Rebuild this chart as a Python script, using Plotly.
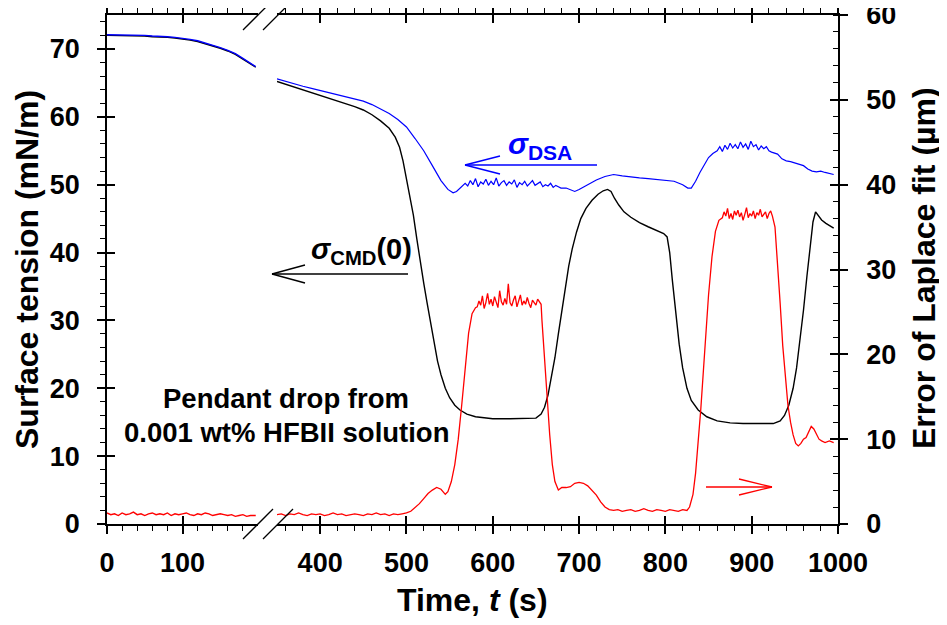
import plotly.graph_objects as go

# ---------------- data ----------------
# Segment 1 (before the axis break), surface tension, mN/m
t1 = [0, 10, 20, 30, 40, 50, 60, 70, 80, 90, 100, 110, 120, 130, 140, 150, 160, 170, 180, 190, 197]
dsa1 = [72.1, 72.1, 72.1, 72.0, 72.0, 72.0, 71.9, 71.9, 71.8, 71.7, 71.6, 71.4, 71.2, 70.9, 70.6,
        70.2, 69.8, 69.3, 68.6, 67.9, 67.4]
cmd1 = [72.0, 72.0, 72.0, 71.9, 71.9, 71.9, 71.8, 71.8, 71.7, 71.6, 71.5, 71.3, 71.1, 70.8, 70.5,
        70.1, 69.7, 69.2, 68.5, 67.8, 67.3]

# Segment 2 (after the axis break)
t_cmd2 = [350, 360, 370, 380, 390, 400, 410, 420, 430, 440, 450, 460, 470, 480, 487, 492, 496, 500,
          504, 508, 512, 516, 520, 524, 528, 532, 536, 540, 545, 550, 556, 562, 570, 580, 590, 600,
          620, 640, 650, 656, 660, 664, 668, 672, 676, 680, 684, 688, 692, 697, 702, 708, 715, 722,
          728, 733, 737, 741, 746, 752, 760, 770, 780, 790, 798, 802, 805, 808, 812, 816, 820, 825,
          830, 838, 848, 860, 875, 890, 910, 925, 933, 938, 943, 948, 952, 956, 960, 964, 968, 971,
          974, 977, 981, 986, 991, 995]
cmd2 = [65.2, 64.8, 64.4, 64.0, 63.6, 63.2, 62.8, 62.4, 62.0, 61.5, 61.0, 60.3, 59.4, 58.3, 57.0,
        55.5, 53.5, 51.0, 48.0, 45.5, 42.0, 38.5, 35.5, 32.5, 29.5, 26.5, 24.0, 22.0, 20.0, 18.6,
        17.5, 16.8, 16.2, 15.8, 15.6, 15.5, 15.5, 15.5, 15.6, 16.2, 17.2, 19.0, 21.5, 24.5, 28.0,
        31.5, 35.0, 38.0, 40.5, 43.0, 45.0, 46.5, 47.7, 48.6, 49.1, 49.3, 49.0, 48.0, 47.0, 46.0,
        45.2, 44.4, 43.8, 43.2, 42.8, 42.3, 40.0, 36.0, 31.0, 26.5, 23.0, 20.0, 18.2, 16.8, 15.8,
        15.2, 14.9, 14.8, 14.8, 14.8, 15.2, 16.0, 17.5, 20.0, 23.0, 27.0, 31.5, 36.5, 41.0, 44.5,
        46.0, 45.5, 44.8, 44.3, 43.9, 43.6]

t_dsa2 = ([350, 360, 370, 380, 390, 400, 410, 420, 430, 440, 450, 460, 470, 480, 490, 500, 510,
           520, 530, 540, 548, 554, 558, 563]
          + [568, 571, 574, 577, 580, 583, 586, 589, 592, 595, 598, 601, 604, 607, 610, 613, 616,
             619, 622, 625, 628, 631, 634, 637, 640, 643, 646, 649, 652, 655, 658, 661, 664, 667,
             670, 673, 676, 679]
          + [685, 690, 695, 700, 710, 720, 730, 740, 750, 760, 770, 780, 790, 800, 810, 820, 826,
             830, 835, 840, 845, 850, 855]
          + [860, 863, 866, 869, 872, 875, 878, 881, 884, 887, 890, 893, 896, 899, 902, 905, 908,
             911, 914, 917, 920, 923]
          + [930, 935, 940, 945, 950, 955, 960, 965, 970, 975, 980, 985, 990, 995])
dsa2 = ([65.6, 65.2, 64.9, 64.5, 64.2, 63.9, 63.6, 63.3, 63.0, 62.7, 62.3, 61.8, 61.2, 60.5, 59.6,
         58.5, 56.8, 55.0, 52.8, 50.6, 49.3, 48.8, 49.0, 49.6]
        + [50.2, 49.8, 50.6, 50.0, 50.9, 49.7, 50.4, 50.1, 50.8, 49.9, 50.5, 50.0, 51.0, 49.8, 50.3,
           50.6, 49.9, 50.4, 50.1, 50.7, 49.6, 50.3, 50.0, 50.5, 49.8, 50.2, 50.6, 49.9, 50.1, 50.4,
           49.7, 50.0, 49.8, 50.2, 49.6, 49.9, 49.7, 49.5]
        + [49.5, 49.2, 49.0, 49.3, 50.0, 50.7, 51.2, 51.5, 51.3, 51.1, 51.0, 50.9, 50.8, 50.7, 50.5,
           50.0, 49.5, 49.5, 50.5, 51.8, 53.0, 54.0, 54.6]
        + [55.0, 55.6, 54.9, 55.8, 55.2, 56.1, 55.4, 55.9, 55.3, 56.3, 55.5, 56.0, 55.2, 56.4, 55.6,
           55.9, 55.1, 55.7, 55.3, 55.6, 55.0, 54.8]
        + [54.5, 53.8, 53.5, 53.4, 53.2, 53.0, 52.8, 52.3, 52.0, 51.9, 52.0, 51.8, 51.6, 51.5])

# Error of Laplace fit, micrometres (right axis)
t_err1 = [0, 5, 10, 15, 20, 25, 30, 35, 40, 45, 50, 55, 60, 65, 70, 75, 80, 85, 90, 95, 100, 105,
          110, 115, 120, 125, 130, 135, 140, 145, 150, 155, 160, 165, 170, 175, 180, 185, 190, 197]
err1 = [1.3, 1.1, 1.2, 1.0, 1.3, 1.1, 1.2, 1.4, 1.1, 1.2, 1.0, 1.2, 1.3, 1.1, 1.2, 1.1, 1.3, 1.0,
        1.2, 1.1, 1.2, 1.3, 1.1, 1.0, 1.2, 1.1, 1.3, 1.2, 1.0, 1.1, 1.2, 1.1, 1.0, 1.1, 0.9, 1.0,
        1.1, 0.9, 1.0, 1.0]

t_err2 = ([350, 355, 360, 365, 370, 375, 380, 385, 390, 395, 400, 405, 410, 415, 420, 425, 430,
           435, 440, 445, 450, 455, 460, 465, 470, 475, 480, 485, 490, 495, 500, 505, 510, 515,
           520, 525, 530, 535, 540, 545, 548, 552, 556, 560, 564, 568, 572, 576, 580]
          + [582, 584, 586, 588, 590, 592, 594, 596, 598, 600, 602, 604, 606, 608, 610, 612, 614,
             616, 618, 620, 622, 624, 626, 628, 630, 632, 634, 636, 638, 640, 642, 644, 646, 648,
             650, 652, 654, 656]
          + [657, 660, 663, 666, 669, 672, 676, 680, 685, 690, 695, 700, 705, 710, 715, 720, 725,
             730, 735, 740, 745, 750, 755, 760, 765, 770, 775, 780, 785, 790, 795, 800, 805, 810,
             815, 820, 825, 828, 832, 835, 838, 841, 844, 847, 850, 854, 858, 862]
          + [866, 868, 870, 872, 874, 876, 878, 880, 882, 884, 886, 888, 890, 892, 894, 896, 898,
             900, 902, 904, 906, 908, 910, 912, 914, 916, 918, 920, 922, 924]
          + [927, 930, 933, 936, 939, 942, 945, 948, 951, 954, 957, 960, 963, 966, 969, 972, 975,
             978, 981, 985, 990, 995])
err2 = ([1.1, 1.2, 1.0, 1.2, 1.1, 1.3, 1.1, 1.0, 1.2, 1.1, 1.2, 1.0, 1.1, 1.3, 1.1, 1.2, 1.0, 1.1,
         1.2, 1.1, 1.0, 1.2, 1.1, 1.3, 1.1, 1.2, 1.0, 1.2, 1.1, 1.2, 1.3, 1.5, 1.9, 2.4, 3.0, 3.6,
         4.0, 4.3, 4.1, 3.5, 3.8, 5.0, 7.0, 10.0, 14.0, 18.5, 22.5, 24.8, 25.5]
        + [25.6, 26.3, 25.8, 26.9, 25.4, 26.1, 27.2, 25.9, 26.5, 25.7, 26.8, 26.0, 25.5, 27.5, 26.2,
           25.8, 26.6, 25.9, 28.3, 26.1, 25.7, 26.4, 26.9, 25.6, 26.2, 27.0, 25.8, 26.3, 25.9, 26.7,
           26.0, 25.5, 26.4, 26.1, 25.8, 26.5, 26.2, 25.9]
        + [24.0, 20.0, 15.0, 10.5, 7.0, 5.0, 4.0, 4.3, 4.3, 4.4, 4.8, 4.9, 4.8, 4.5, 4.0, 3.4, 2.6,
           2.0, 1.7, 1.6, 1.7, 1.5, 1.6, 1.7, 1.5, 1.6, 1.8, 1.6, 1.5, 1.7, 1.6, 1.5, 1.7, 1.6, 1.5,
           1.7, 1.6, 2.0, 3.5, 6.0, 9.5, 13.5, 18.0, 22.5, 27.0, 31.5, 34.5, 35.8]
        + [36.1, 36.8, 36.3, 37.2, 36.0, 36.6, 35.9, 36.9, 36.4, 37.0, 36.2, 36.7, 35.8, 36.5, 37.3,
           36.1, 36.6, 36.3, 36.9, 36.0, 36.7, 36.4, 37.1, 36.2, 36.5, 36.8, 36.0, 36.6, 36.9, 36.3]
        + [35.0, 31.0, 26.0, 21.0, 17.0, 14.0, 12.0, 10.5, 9.5, 9.2, 9.5, 10.0, 10.2, 10.8, 11.5,
           11.2, 10.5, 10.0, 9.8, 9.6, 9.8, 9.6])

x_ticks_left = [0, 100]
x_minor_left = [20, 40, 60, 80, 120, 140, 160, 180]
x_range_left = [0, 200]
x_range_right = [350, 1000]
y_range_left = [0, 75]
y_range_right = [0, 60]

# ---------------- layout helpers ----------------
# The page places the figure 8 px from the top-left corner (body margin),
# so the figure is sized to fill the 947x625 window from there.
OFF = 8
WIN_W, WIN_H = 947, 625
W, H = WIN_W - OFF, WIN_H - OFF
L, R, T, B = 107, 838, 15, 524      # plot area in window pixels


def px(x):
    return (x - L) / (R - L)


def py(y):
    return (B - y) / (B - T)


FONT = "Liberation Sans, Arial, sans-serif"
BLUE = "#0000FF"
RED = "#FF0000"

fig = go.Figure()
fig.add_trace(go.Scatter(x=t1, y=cmd1, xaxis="x", yaxis="y", mode="lines",
                         line=dict(color="black", width=1.4)))
fig.add_trace(go.Scatter(x=t_cmd2, y=cmd2, xaxis="x2", yaxis="y", mode="lines",
                         line=dict(color="black", width=1.4)))
fig.add_trace(go.Scatter(x=t1, y=dsa1, xaxis="x", yaxis="y", mode="lines",
                         line=dict(color=BLUE, width=1.4)))
fig.add_trace(go.Scatter(x=t_dsa2, y=dsa2, xaxis="x2", yaxis="y", mode="lines",
                         line=dict(color=BLUE, width=1.2)))
fig.add_trace(go.Scatter(x=t_err1, y=err1, xaxis="x", yaxis="y2", mode="lines",
                         line=dict(color=RED, width=1.4)))
fig.add_trace(go.Scatter(x=t_err2, y=err2, xaxis="x2", yaxis="y2", mode="lines",
                         line=dict(color=RED, width=1.3)))
# empty helper traces so the tick-only overlay axes (inner half of the crossing
# major ticks) are instantiated
fig.add_trace(go.Scatter(x=[], y=[], xaxis="x3", yaxis="y3", hoverinfo="skip"))
fig.add_trace(go.Scatter(x=[], y=[], xaxis="x4", yaxis="y4", hoverinfo="skip"))

tickfont = dict(family=FONT, size=27, color="black", weight="bold")
titlefont = dict(family=FONT, size=32, color="black", weight="bold")
axis_common = dict(showline=True, linecolor="black", linewidth=1.5, ticks="outside",
                   ticklen=8, tickwidth=1.5, tickcolor="black", showgrid=False,
                   zeroline=False, tickfont=tickfont, automargin=False,
                   ticklabeloverflow="allow")
inner_ticks = dict(showline=False, ticks="inside", ticklen=8, tickwidth=1.5,
                   tickcolor="black", showgrid=False, zeroline=False,
                   showticklabels=False, automargin=False, mirror="ticks")

fig.update_layout(
    width=W, height=H,
    margin=dict(l=L - OFF, r=WIN_W - R, t=T - OFF, b=WIN_H - B, pad=0, autoexpand=False),
    paper_bgcolor="white", plot_bgcolor="white",
    showlegend=False,
    xaxis=dict(domain=[0, px(258)], range=x_range_left, tickmode="array",
               tickvals=x_ticks_left, mirror="ticks", anchor="y", ticklabelstandoff=6,
               minor=dict(tickmode="array", tickvals=x_minor_left, ticks="outside",
                          ticklen=5, tickwidth=1.2, tickcolor="black"),
               **axis_common),
    xaxis2=dict(domain=[px(277), 1], range=x_range_right, tick0=0, dtick=100,
                mirror="ticks", anchor="y", ticklabelstandoff=6,
                minor=dict(dtick=20, tick0=0, ticks="outside", ticklen=5, tickwidth=1.2,
                           tickcolor="black"),
                **axis_common),
    xaxis3=dict(domain=[0, px(258)], range=x_range_left, tickmode="array",
                tickvals=x_ticks_left, overlaying="x", anchor="y", side="bottom",
                **inner_ticks),
    xaxis4=dict(domain=[px(277), 1], range=x_range_right, tick0=0, dtick=100,
                overlaying="x2", anchor="y", side="bottom", **inner_ticks),
    yaxis=dict(range=y_range_left, dtick=10, tick0=0, anchor="x", side="left",
               ticklabelstandoff=12,
               minor=dict(dtick=2, ticks="outside", ticklen=5, tickwidth=1.2,
                          tickcolor="black"),
               **axis_common),
    yaxis2=dict(range=y_range_right, dtick=10, tick0=0, anchor="x2", side="right",
                overlaying="y", ticklabelstandoff=13,
                minor=dict(dtick=2, ticks="inside", ticklen=5, tickwidth=1.2,
                           tickcolor="black"),
                **axis_common),
    yaxis3=dict(range=y_range_left, dtick=10, tick0=0, anchor="x", side="left",
                overlaying="y", **{k: v for k, v in inner_ticks.items() if k != "mirror"}),
    yaxis4=dict(range=y_range_right, dtick=10, tick0=0, anchor="x2", side="right",
                overlaying="y", **{k: v for k, v in inner_ticks.items() if k != "mirror"}),
)


def label(x, y, text, font, angle=0):
    fig.add_annotation(xref="paper", yref="paper", x=px(x), y=py(y), showarrow=False,
                       xanchor="center", yanchor="middle", text=text, textangle=angle,
                       font=font)


# axis titles as annotations (exact placement)
label(472, 600, "Time, <i>t</i> (s)", titlefont)
label(27, 270, "Surface tension (mN/m)", titlefont, -90)
label(924, 268, "Error of Laplace fit (µm)", titlefont, -90)

# axis-break marks (double slashes) on bottom and top axes
for (xa, xb) in [(243, 273), (263, 293)]:
    for yc in (B, T):
        fig.add_shape(type="line", xref="paper", yref="paper",
                      x0=px(xa), y0=py(yc + 15), x1=px(xb), y1=py(yc - 15),
                      line=dict(color="black", width=1.3))


def arrow(x_tip, x_tail, y, head_len, half_w, color, direction):
    s = 1 if direction == "left" else -1
    fig.add_shape(type="line", xref="paper", yref="paper",
                  x0=px(x_tip), y0=py(y), x1=px(x_tail), y1=py(y),
                  line=dict(color=color, width=1.3))
    for d in (-half_w, half_w):
        fig.add_shape(type="line", xref="paper", yref="paper",
                      x0=px(x_tip), y0=py(y), x1=px(x_tip + s * head_len), y1=py(y + d),
                      line=dict(color=color, width=1.3))


arrow(465, 597, 165, 35, 9, BLUE, "left")
arrow(272, 408, 274, 33, 9, "black", "left")
arrow(772, 706, 487, 33, 8, RED, "right")

label(540, 146, "<i>σ</i><sub>DSA</sub>",
      dict(family=FONT, size=30, color=BLUE, weight="bold"))
label(361, 251, "<i>σ</i><sub>CMD</sub>(0)",
      dict(family=FONT, size=29, color="black", weight="bold"))
note_font = dict(family=FONT, size=27.5, color="black", weight="bold")
label(286, 398, "Pendant drop from", note_font)
label(286, 432, "0.001 wt% HFBII solution", note_font)

fig.write_html("out.html")
